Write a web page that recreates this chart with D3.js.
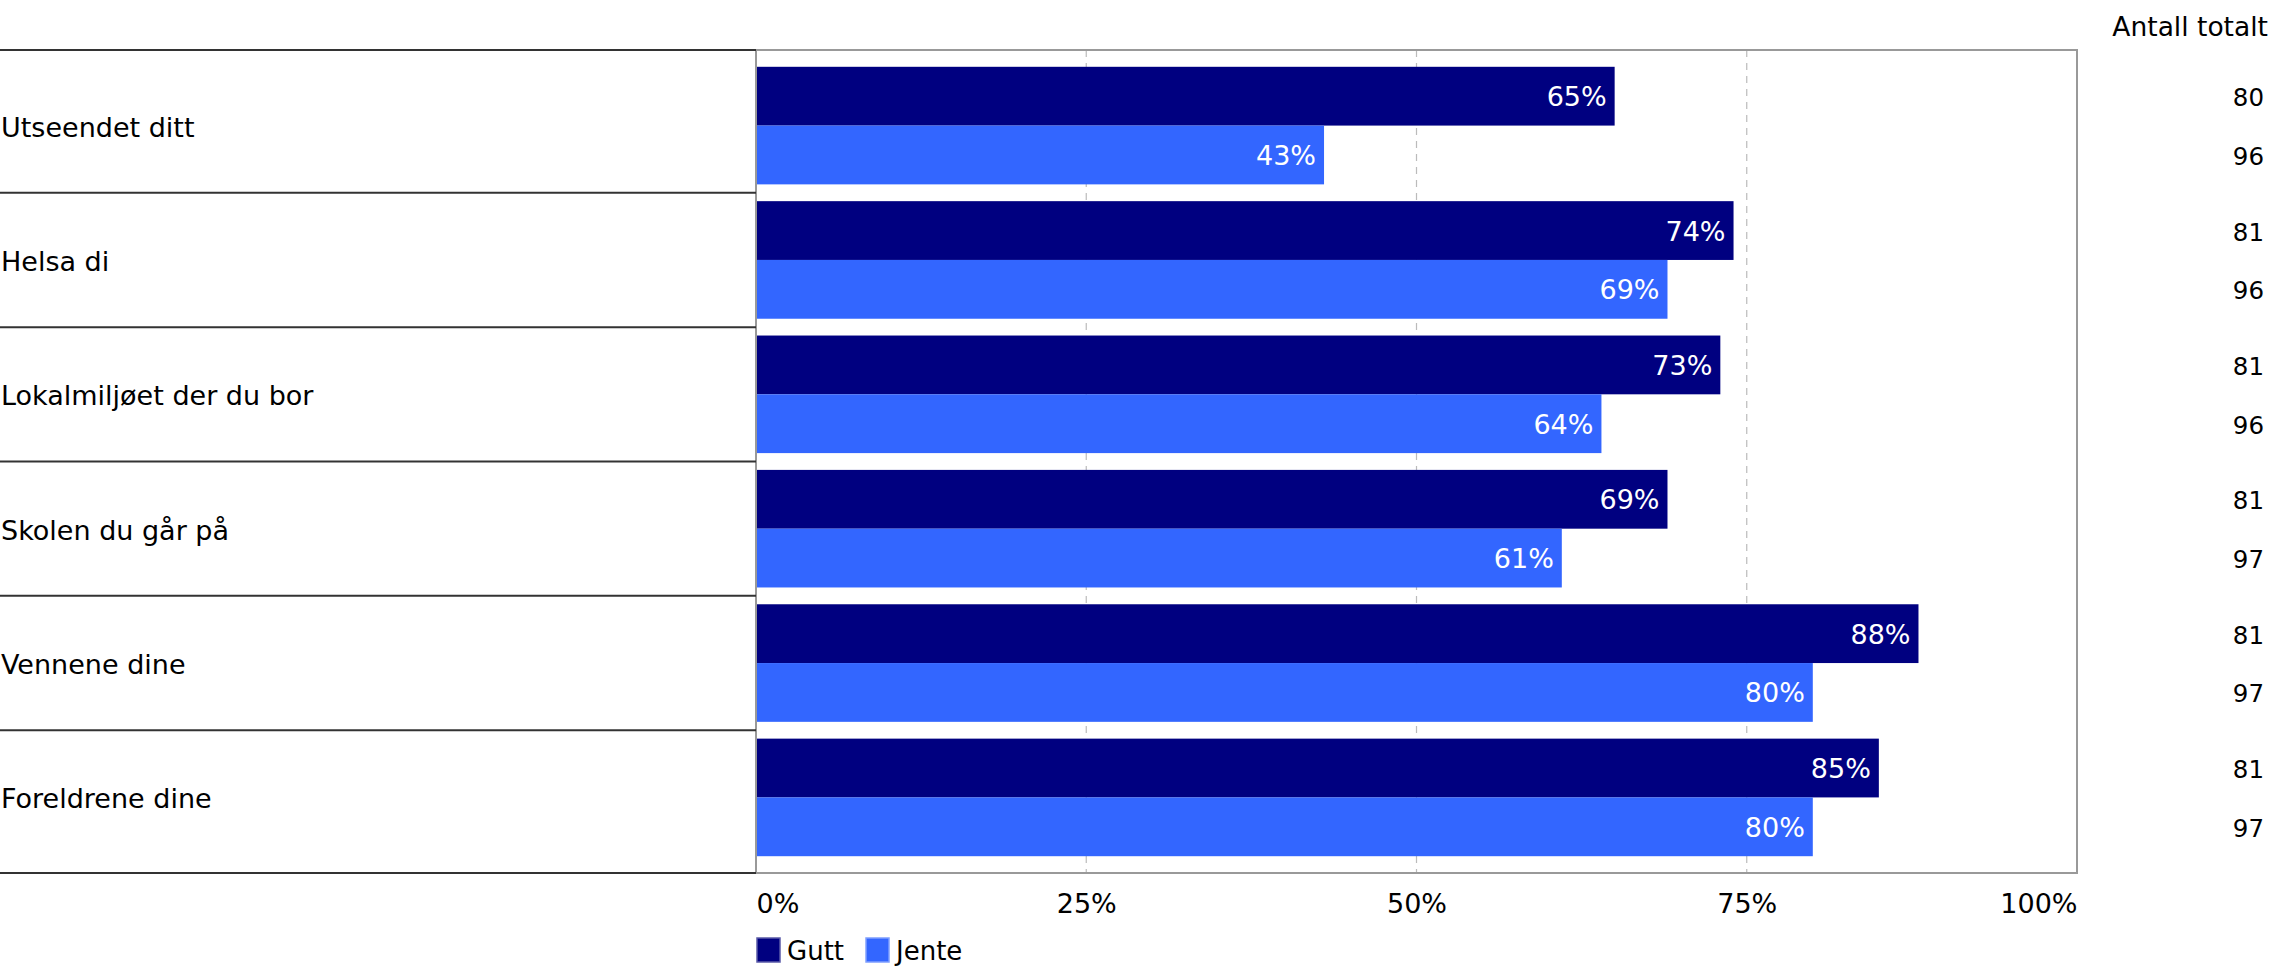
<!DOCTYPE html>
<html>
<head>
<meta charset="utf-8">
<script src="https://cdn.jsdelivr.net/npm/d3@7"></script>
<style>
  html, body { margin: 0; padding: 0; background: #fff; }
  svg { display: block; font-family: "DejaVu Sans", Verdana, sans-serif; }
</style>
</head>
<body>
<svg id="chart" width="2271" height="972"></svg>
<script>
const categories = ["Utseendet ditt", "Helsa di", "Lokalmiljøet der du bor", "Skolen du går på", "Vennene dine", "Foreldrene dine"];
const seriesNames = ["Gutt", "Jente"];
const gutt = [65, 74, 73, 69, 88, 85];
const jente = [43, 69, 64, 61, 80, 80];
const guttCount = [80, 81, 81, 81, 81, 81];
const jenteCount = [96, 96, 96, 97, 97, 97];
const tickValues = [0, 25, 50, 75, 100];
const colors = ["#000080", "#3366ff"];
const countHeader = "Antall totalt";

const plot = { left: 756, right: 2077, top: 50, bottom: 873 };
const svg = d3.select("#chart");

const x = d3.scaleLinear().domain([0, 100]).range([plot.left, plot.right]);
const y = d3.scaleBand().domain(categories).range([plot.top, plot.bottom])
  .paddingInner(0.125).paddingOuter(0.125);
const ySub = d3.scaleBand().domain(seriesNames).range([0, y.bandwidth()]);

const seriesVals = [gutt, jente];
const counts = [guttCount, jenteCount];

// gridlines
svg.append("g").selectAll("line").data(tickValues.filter(t => t > 0 && t < 100)).join("line")
  .attr("x1", d => x(d)).attr("x2", d => x(d))
  .attr("y1", plot.top).attr("y2", plot.bottom)
  .attr("stroke", "#bbb").attr("stroke-width", 1.2).attr("stroke-dasharray", "7,6");

// bars
const groups = svg.append("g").selectAll("g").data(categories).join("g")
  .attr("transform", d => `translate(0,${y(d)})`);

groups.each(function(cat, i) {
  const g = d3.select(this);
  seriesNames.forEach((s, j) => {
    const v = seriesVals[j][i];
    const cy = ySub(s) + ySub.bandwidth() / 2;
    g.append("rect")
      .attr("x", x(0)).attr("y", ySub(s))
      .attr("width", x(v) - x(0)).attr("height", ySub.bandwidth())
      .attr("fill", colors[j]);
    g.append("text")
      .attr("x", x(v) - 8).attr("y", cy + 10)
      .attr("text-anchor", "end")
      .attr("fill", "#fff").attr("font-size", 27)
      .text(v + "%");
    g.append("text")
      .attr("x", 2264).attr("y", cy + 10)
      .attr("text-anchor", "end")
      .attr("fill", "#000").attr("font-size", 24.5)
      .text(counts[j][i]);
  });
});

// plot frame
svg.append("rect")
  .attr("x", plot.left).attr("y", plot.top)
  .attr("width", plot.right - plot.left).attr("height", plot.bottom - plot.top)
  .attr("fill", "none").attr("stroke", "#999").attr("stroke-width", 2);

// category separators
const seps = [plot.top];
for (let i = 1; i < categories.length; i++) {
  seps.push((y(categories[i - 1]) + y.bandwidth() + y(categories[i])) / 2);
}
seps.push(plot.bottom);
svg.append("g").selectAll("line").data(seps).join("line")
  .attr("x1", 0).attr("x2", plot.left)
  .attr("y1", d => d).attr("y2", d => d)
  .attr("stroke", "#333").attr("stroke-width", 2);

// category labels
svg.append("g").selectAll("text").data(categories).join("text")
  .attr("x", 1).attr("y", d => y(d) + y.bandwidth() / 2 + 11)
  .attr("font-size", 27).attr("fill", "#000")
  .text(d => d);

// x axis labels
const axis = d3.axisBottom(x).tickValues(tickValues).tickFormat(d => d + "%").tickSize(0).tickPadding(0);
const ax = svg.append("g").attr("transform", `translate(0,${plot.bottom})`).call(axis);
ax.select(".domain").remove();
ax.selectAll("text")
  .attr("y", 40).attr("dy", 0)
  .attr("font-size", 27).attr("font-family", "DejaVu Sans, Verdana, sans-serif").attr("fill", "#000")
  .attr("text-anchor", d => d === 0 ? "start" : (d === 100 ? "end" : "middle"));

// header for counts
svg.append("text").attr("x", 2268).attr("y", 36).attr("text-anchor", "end")
  .attr("font-size", 26.5).attr("fill", "#000").text(countHeader);

// legend
const leg = svg.append("g").attr("transform", "translate(756,937)");
let lx = 0;
seriesNames.forEach((s, j) => {
  leg.append("rect").attr("x", lx + 1).attr("y", 1).attr("width", 23).attr("height", 24)
    .attr("fill", colors[j]).attr("stroke", j === 0 ? "#5a5aa8" : "#7f9fff").attr("stroke-width", 1.5);
  const t = leg.append("text").attr("x", lx + 31).attr("y", 23)
    .attr("font-size", 26).attr("fill", "#000").text(s);
  lx += 31 + t.node().getComputedTextLength() + 21;
});
</script>
</body>
</html>
